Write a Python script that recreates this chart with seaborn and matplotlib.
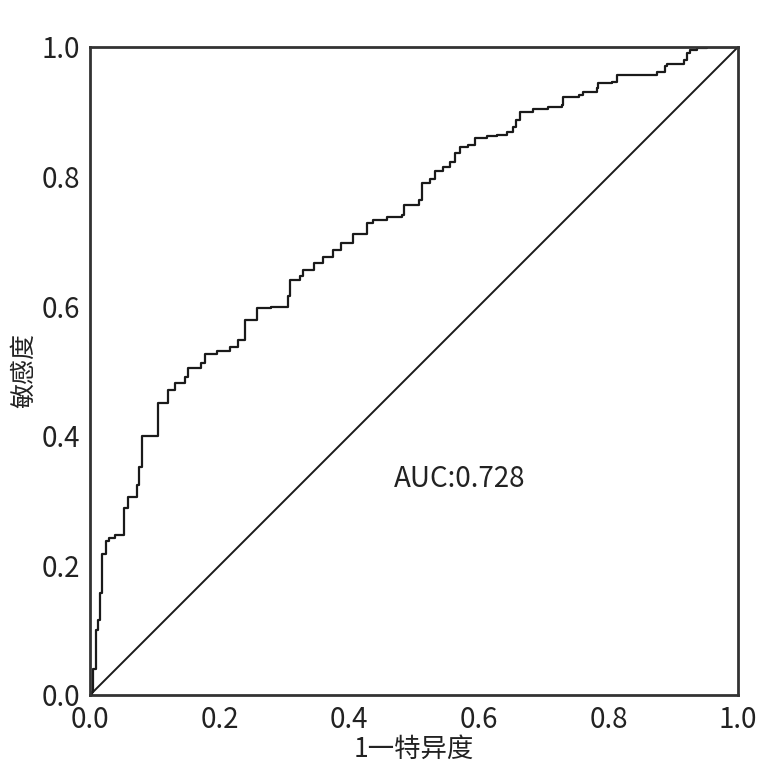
import matplotlib
matplotlib.use("Agg")
import matplotlib.pyplot as plt
import seaborn as sns
import pandas as pd

# ROC 曲线拐点 (1-特异度, 敏感度)
fpr = [0.000, 0.003, 0.004, 0.009, 0.013, 0.015, 0.019, 0.024, 0.029, 0.039,
       0.053, 0.053, 0.059, 0.072, 0.076, 0.080, 0.105, 0.121, 0.131, 0.147,
       0.152, 0.172, 0.177, 0.196, 0.216, 0.229, 0.239, 0.257, 0.280, 0.306,
       0.309, 0.324, 0.329, 0.345, 0.360, 0.375, 0.388, 0.406, 0.427, 0.437,
       0.458, 0.481, 0.484, 0.507, 0.512, 0.525, 0.532, 0.545, 0.556, 0.563,
       0.571, 0.584, 0.594, 0.612, 0.628, 0.643, 0.653, 0.658, 0.664, 0.684,
       0.707, 0.728, 0.730, 0.754, 0.761, 0.782, 0.784, 0.805, 0.813, 0.869,
       0.875, 0.887, 0.890, 0.916, 0.921, 0.926, 0.936, 0.952, 1.000]
tpr = [0.000, 0.005, 0.040, 0.100, 0.116, 0.158, 0.218, 0.237, 0.242, 0.247,
       0.250, 0.289, 0.306, 0.324, 0.352, 0.400, 0.451, 0.471, 0.481, 0.491,
       0.505, 0.512, 0.526, 0.531, 0.537, 0.548, 0.579, 0.597, 0.599, 0.615,
       0.640, 0.646, 0.656, 0.666, 0.676, 0.687, 0.697, 0.712, 0.728, 0.733,
       0.737, 0.741, 0.756, 0.764, 0.790, 0.797, 0.808, 0.815, 0.823, 0.836,
       0.846, 0.849, 0.859, 0.862, 0.864, 0.869, 0.877, 0.887, 0.900, 0.905,
       0.908, 0.910, 0.923, 0.926, 0.931, 0.936, 0.944, 0.946, 0.957, 0.957,
       0.962, 0.970, 0.974, 0.980, 0.990, 0.995, 0.998, 1.000, 1.000]
ref_line = [0.0, 1.0]
ticks = [0.0, 0.2, 0.4, 0.6, 0.8, 1.0]
auc_text = "AUC:0.728"

sns.set_theme(style="white")
plt.rcParams["font.family"] = ["Noto Sans CJK SC", "DejaVu Sans"]

df = pd.DataFrame({"fpr": fpr, "tpr": tpr})

fig = plt.figure(figsize=(7.68, 7.81), dpi=100)
ax = fig.add_axes([90 / 768, 1 - 695 / 781, 648 / 768, 648 / 781])

sns.lineplot(data=df, x="fpr", y="tpr", ax=ax, color="#1a1a1a", linewidth=1.6,
             drawstyle="steps-post", estimator=None, sort=False)
sns.lineplot(x=ref_line, y=ref_line, ax=ax, color="#1a1a1a", linewidth=1.4)

ax.set_xlim(0, 1)
ax.set_ylim(0, 1)
ax.set_xticks(ticks)
ax.set_yticks(ticks)
ax.set_xticklabels([f"{t:.1f}" for t in ticks])
ax.set_yticklabels([f"{t:.1f}" for t in ticks])
ax.tick_params(labelsize=20, colors="#222222", length=0, pad=7)
ax.set_xlabel("1一特异度", fontsize=19, color="#222222", labelpad=1)
ax.set_ylabel("敏感度", fontsize=18, color="#222222", labelpad=3)
for s in ax.spines.values():
    s.set_color("#333333")
    s.set_linewidth(2)

ax.text(0.571, 0.333, auc_text, fontsize=20, color="#222222",
        ha="center", va="center")

fig.savefig("out.png", dpi=100, facecolor="white")
